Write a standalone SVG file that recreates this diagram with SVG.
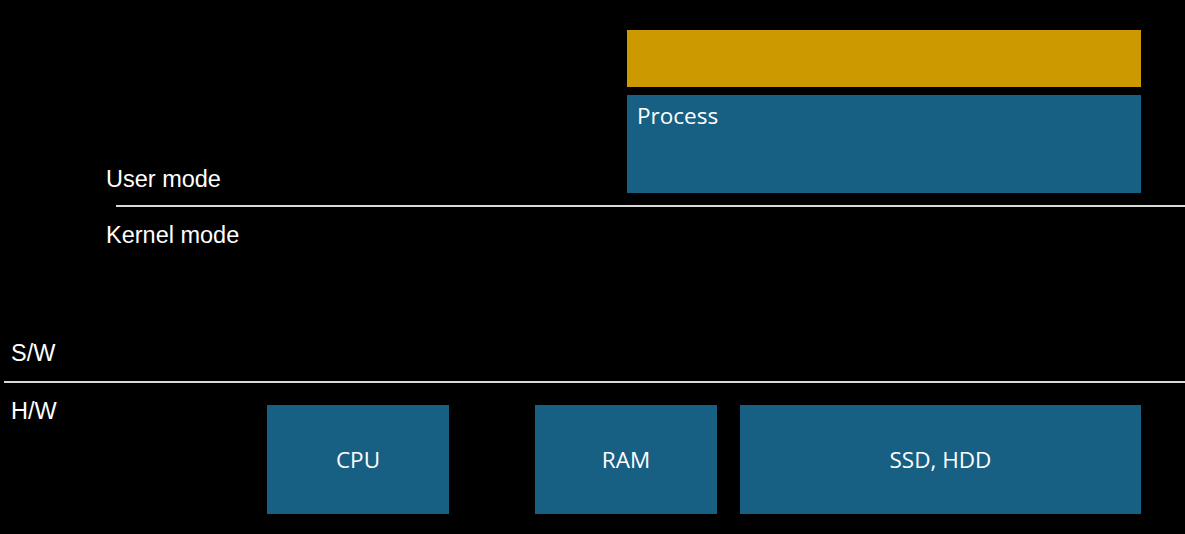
<svg xmlns="http://www.w3.org/2000/svg" width="1185" height="534" viewBox="0 0 1185 534">
<style>
.box{fill:#176083}
.lbl{font-family:"Open Sans","Noto Sans",sans-serif;font-size:22.5px;fill:#ffffff}
.side{font-family:"Liberation Sans",Arial,sans-serif;font-size:23.5px;fill:#ffffff}
.sep{stroke:#d9d9d9;stroke-width:2}
</style>
<rect width="1185" height="534" fill="#000000"/>
<g id="labels">
<text class="side" x="106" y="187">User mode</text>
<text class="side" x="106" y="243">Kernel mode</text>
<text class="side" x="11" y="361">S/W</text>
<text class="side" x="11" y="419">H/W</text>
</g>
<g id="connectors">
<line class="sep" x1="116" y1="206" x2="1185" y2="206"/>
<line class="sep" x1="4" y1="382" x2="1185" y2="382"/>
</g>
<g id="top-bar"><rect x="627" y="30" width="514" height="57" fill="#cc9900"/></g>
<g id="process"><rect class="box" x="627" y="95" width="514" height="98"/><text class="lbl" x="637" y="124">Process</text></g>
<g id="cpu"><rect class="box" x="267" y="405" width="182" height="109"/><text class="lbl" x="358" y="468" text-anchor="middle">CPU</text></g>
<g id="ram"><rect class="box" x="535" y="405" width="182" height="109"/><text class="lbl" x="626" y="468" text-anchor="middle">RAM</text></g>
<g id="storage"><rect class="box" x="740" y="405" width="401" height="109"/><text class="lbl" x="940.500" y="468" text-anchor="middle">SSD, HDD</text></g>
</svg>
